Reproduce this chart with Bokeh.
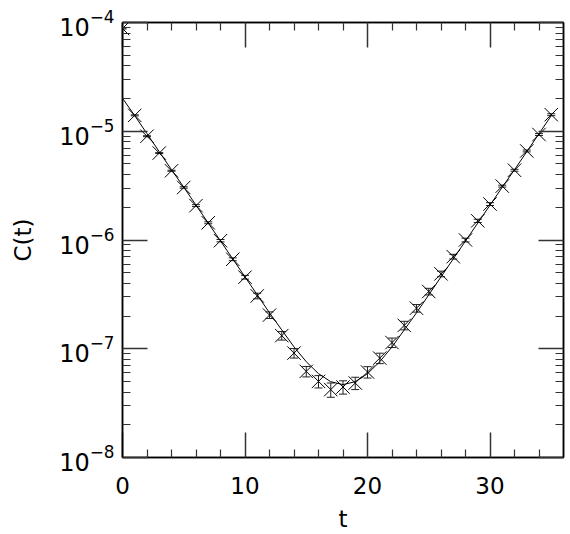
from bokeh.plotting import figure
from bokeh.models import (FixedTicker, LinearAxis, Whisker, TeeHead,
                          ColumnDataSource, LogTickFormatter, CustomLabelingPolicy,
                          CustomJSTickFormatter)
from bokeh.embed import file_html
from bokeh.resources import INLINE

# data
t = list(range(36))
C = [8.8e-5, 1.40e-5, 9.0e-6, 6.3e-6, 4.33e-6, 3.04e-6, 2.07e-6, 1.44e-6, 9.86e-7,
     6.65e-7, 4.55e-7, 3.06e-7, 2.04e-7, 1.32e-7, 9.12e-8, 6.19e-8, 5.01e-8, 4.21e-8,
     4.45e-8, 4.84e-8, 6.11e-8, 8.20e-8, 1.14e-7, 1.64e-7, 2.36e-7, 3.36e-7, 4.88e-7,
     7.03e-7, 1.0e-6, 1.50e-6, 2.14e-6, 3.13e-6, 4.38e-6, 6.59e-6, 9.33e-6, 1.42e-5]
rel_err = [0.01, 0.01, 0.01, 0.01, 0.01, 0.015, 0.02, 0.02, 0.025,
           0.03, 0.04, 0.06, 0.07, 0.09, 0.10, 0.11, 0.13, 0.15,
           0.14, 0.13, 0.12, 0.11, 0.10, 0.09, 0.08, 0.07, 0.06,
           0.05, 0.04, 0.035, 0.03, 0.02, 0.02, 0.02, 0.02, 0.02]
fit_t = list(range(36))
fit_C = [2.01e-5, 1.39e-5, 9.5e-6, 6.48e-6, 4.43e-6, 3.06e-6, 2.09e-6, 1.43e-6, 9.8e-7,
         6.7e-7, 4.58e-7, 3.13e-7, 2.14e-7, 1.49e-7, 1.04e-7, 7.6e-8, 5.9e-8, 4.98e-8,
         4.68e-8, 4.98e-8, 5.9e-8, 7.6e-8, 1.04e-7, 1.49e-7, 2.14e-7, 3.13e-7, 4.58e-7,
         6.7e-7, 9.8e-7, 1.43e-6, 2.09e-6, 3.06e-6, 4.43e-6, 6.48e-6, 9.5e-6, 1.39e-5]
x_major = [0, 10, 20, 30]
x_minor = [2, 4, 6, 8, 12, 14, 16, 18, 22, 24, 26, 28, 32, 34]
y_major = [1e-8, 1e-7, 1e-6, 1e-5, 1e-4]
y_minor = [m * 10.0 ** e for e in range(-8, -4) for m in range(2, 10)]

FONT = "DejaVu Sans"

p = figure(width=570, height=534, y_axis_type="log", x_range=(0, 36),
           y_range=(1e-8, 1e-4), output_backend="svg", toolbar_location=None,
           min_border_left=122, min_border_right=7, min_border_top=22,
           min_border_bottom=76)
p.grid.visible = False
p.outline_line_color = "black"
p.outline_line_width = 1.5

src = ColumnDataSource(dict(
    t=t, C=C,
    up=[c * (1 + r) for c, r in zip(C, rel_err)],
    lo=[c * (1 - r) for c, r in zip(C, rel_err)],
))

p.line(fit_t, fit_C, line_color="black", line_width=1)
p.add_layout(Whisker(source=src, base="t", upper="up", lower="lo",
                     line_color="#222222", line_width=1,
                     upper_head=TeeHead(size=8, line_color="#222222", line_width=1),
                     lower_head=TeeHead(size=8, line_color="#222222", line_width=1)))
p.scatter("t", "C", source=src, marker="x", size=19, line_color="black",
          line_width=1)

hide_labels = CustomLabelingPolicy(code="""
    const out = new Set()
    if (indices != null && typeof indices.clear === 'function') {
        indices.clear()
        return indices
    }
    if (indices != null && typeof indices.unset === 'function') {
        for (const i of [...indices]) indices.unset(i)
        return indices
    }
    return out
""")


def style(ax, labels=True):
    ax.major_tick_in = 25
    ax.major_tick_out = 0
    ax.minor_tick_in = 8
    ax.minor_tick_out = 0
    ax.axis_line_color = "black"
    ax.axis_line_width = 1.5
    ax.major_tick_line_color = "#333333"
    ax.minor_tick_line_color = "#333333"
    ax.major_tick_line_width = 1.5
    ax.minor_tick_line_width = 1.2
    if labels:
        ax.major_label_text_font = FONT
        ax.major_label_text_font_size = "23px"
        ax.major_label_text_color = "black"
        ax.axis_label_text_font = FONT
        ax.axis_label_text_font_size = "23px"
        ax.axis_label_text_font_style = "normal"
        ax.axis_label_text_color = "black"
    else:
        ax.formatter = CustomJSTickFormatter(code="return '.'")
        ax.major_label_policy = hide_labels
        ax.major_label_text_font_size = "1px"
        ax.major_label_standoff = 0
        ax.axis_label_standoff = 0


xb = p.xaxis[0]
xb.ticker = FixedTicker(ticks=x_major, minor_ticks=x_minor)
xb.axis_label = "t"
style(xb)
xb.major_label_standoff = 19
xb.axis_label_standoff = 9

yl = p.yaxis[0]
yl.ticker = FixedTicker(ticks=y_major, minor_ticks=y_minor)
yl.formatter = LogTickFormatter()
yl.axis_label = "C(t)"
style(yl)
yl.major_label_text_font_size = "24px"
yl.major_label_standoff = 8
yl.axis_label_standoff = 20

yr = LinearAxis(ticker=FixedTicker(ticks=y_major, minor_ticks=y_minor))
style(yr, labels=False)
p.add_layout(yr, "right")

xt = LinearAxis(ticker=FixedTicker(ticks=x_major, minor_ticks=x_minor))
style(xt, labels=False)
p.add_layout(xt, "above")

open("out.html", "w").write(file_html(p, INLINE))
